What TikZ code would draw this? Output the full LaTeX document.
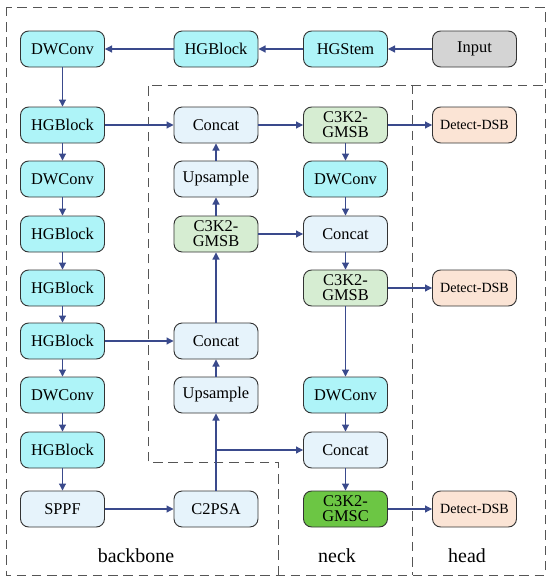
\documentclass[tikz,border=0pt]{standalone}
\usepackage{fontspec}
\setmainfont{Liberation Serif}
\usetikzlibrary{arrows.meta, positioning}
\definecolor{ArrowBlue}{HTML}{3A4A8C}
\definecolor{BoxEdge}{HTML}{333333}
\definecolor{DashGray}{HTML}{555555}
\definecolor{HGCyan}{HTML}{AEF4F8}
\definecolor{CatBlue}{HTML}{E6F3FB}
\definecolor{GmsbGreen}{HTML}{D6EDD2}
\definecolor{GmscGreen}{HTML}{6CC644}
\definecolor{DetPeach}{HTML}{FBE4D5}
\definecolor{InGray}{HTML}{D4D4D4}

\begin{document}
\begin{tikzpicture}[
    x=0.03cm, y=-0.03cm,
    blk/.style={rounded corners=7pt, minimum width=2.52cm, minimum height=1.08cm, draw=BoxEdge, line width=0.8pt, font=\fontsize{14}{15}\selectfont, align=center, inner sep=1pt},
    hg/.style={blk, fill=HGCyan},
    cat/.style={blk, fill=CatBlue},
    gmsb/.style={blk, fill=GmsbGreen, font=\fontsize{14}{13}\selectfont},
    gmsc/.style={blk, fill=GmscGreen, font=\fontsize{14}{13}\selectfont},
    det/.style={blk, fill=DetPeach, font=\fontsize{12}{13}\selectfont},
    inp/.style={blk, fill=InGray},
    flow/.style={draw=ArrowBlue, line width=0.9pt, -{Triangle[length=6pt, width=6pt]}},
    region/.style={draw=DashGray, line width=0.8pt, dash pattern=on 8pt off 5pt},
    regionlabel/.style={font=\fontsize{17}{18}\selectfont}
]
\useasboundingbox (0,0) rectangle (550,581);

% region frames
\draw[region] (6,7) rectangle (545,575);
\draw[region] (278,575) -- (278,462) -- (148,462) -- (148,85) -- (545,85);
\draw[region] (412,85) -- (412,575);
\node[regionlabel] (lbback) at (136,556) {backbone};
\node[regionlabel] (lbneck) at (337,556) {neck};
\node[regionlabel] (lbhead) at (467,556) {head};

% backbone column
\node[hg] (dw1) at (62.5,49) {DWConv};
\node[hg] (hg1) at (62.5,125) {HGBlock};
\node[hg] (dw2) at (62.5,179) {DWConv};
\node[hg] (hg2) at (62.5,234) {HGBlock};
\node[hg] (hg3) at (62.5,288) {HGBlock};
\node[hg] (hg4) at (62.5,341) {HGBlock};
\node[hg] (dw3) at (62.5,395) {DWConv};
\node[hg] (hg5) at (62.5,450) {HGBlock};
\node[cat] (sppf) at (62.5,509) {SPPF};

% top row
\node[hg] (hg0) at (216,49) {HGBlock};
\node[hg] (stem) at (345.5,49) {HGStem};
\node[inp] (input) at (474.5,49) {Input};

% second column
\node[cat] (cat1) at (216,125) {Concat};
\node[cat] (up1) at (216,179) {Upsample};
\node[gmsb] (gm1) at (216,234) {C3K2-\\GMSB};
\node[cat] (cat2) at (216,341) {Concat};
\node[cat] (up2) at (216,395) {Upsample};
\node[cat] (c2psa) at (216,509) {C2PSA};

% third column
\node[gmsb] (gm2) at (345.5,125) {C3K2-\\GMSB};
\node[hg] (dw4) at (345.5,179) {DWConv};
\node[cat] (cat3) at (345.5,234) {Concat};
\node[gmsb] (gm3) at (345.5,288) {C3K2-\\GMSB};
\node[hg] (dw5) at (345.5,395) {DWConv};
\node[cat] (cat4) at (345.5,450) {Concat};
\node[gmsc] (gm4) at (345.5,509) {C3K2-\\GMSC};

% head
\node[det] (det1) at (474.5,125) {Detect-DSB};
\node[det] (det2) at (474.5,288) {Detect-DSB};
\node[det] (det3) at (474.5,509) {Detect-DSB};

% backbone flow
\draw[flow] (input) -- (stem);
\draw[flow] (stem) -- (hg0);
\draw[flow] (hg0) -- (dw1);
\draw[flow] (dw1) -- (hg1);
\draw[flow] (hg1) -- (dw2);
\draw[flow] (dw2) -- (hg2);
\draw[flow] (hg2) -- (hg3);
\draw[flow] (hg3) -- (hg4);
\draw[flow] (hg4) -- (dw3);
\draw[flow] (dw3) -- (hg5);
\draw[flow] (hg5) -- (sppf);
\draw[flow] (sppf) -- (c2psa);

% neck flow
\draw[flow] (hg1) -- (cat1);
\draw[flow] (hg4) -- (cat2);
\draw[flow] (c2psa) -- (up2);
\draw[flow] (up2) -- (cat2);
\draw[flow] (cat2) -- (gm1);
\draw[flow] (gm1) -- (up1);
\draw[flow] (up1) -- (cat1);
\draw[flow] (cat1) -- (gm2);
\draw[flow] (gm2) -- (dw4);
\draw[flow] (dw4) -- (cat3);
\draw[flow] (gm1) -- (cat3);
\draw[flow] (cat3) -- (gm3);
\draw[flow] (gm3) -- (dw5);
\draw[flow] (dw5) -- (cat4);
\coordinate (tap) at (c2psa |- cat4);
\draw[flow] (tap) -- (cat4);
\draw[flow] (cat4) -- (gm4);

% head flow
\draw[flow] (gm2) -- (det1);
\draw[flow] (gm3) -- (det2);
\draw[flow] (gm4) -- (det3);
\end{tikzpicture}
\end{document}
